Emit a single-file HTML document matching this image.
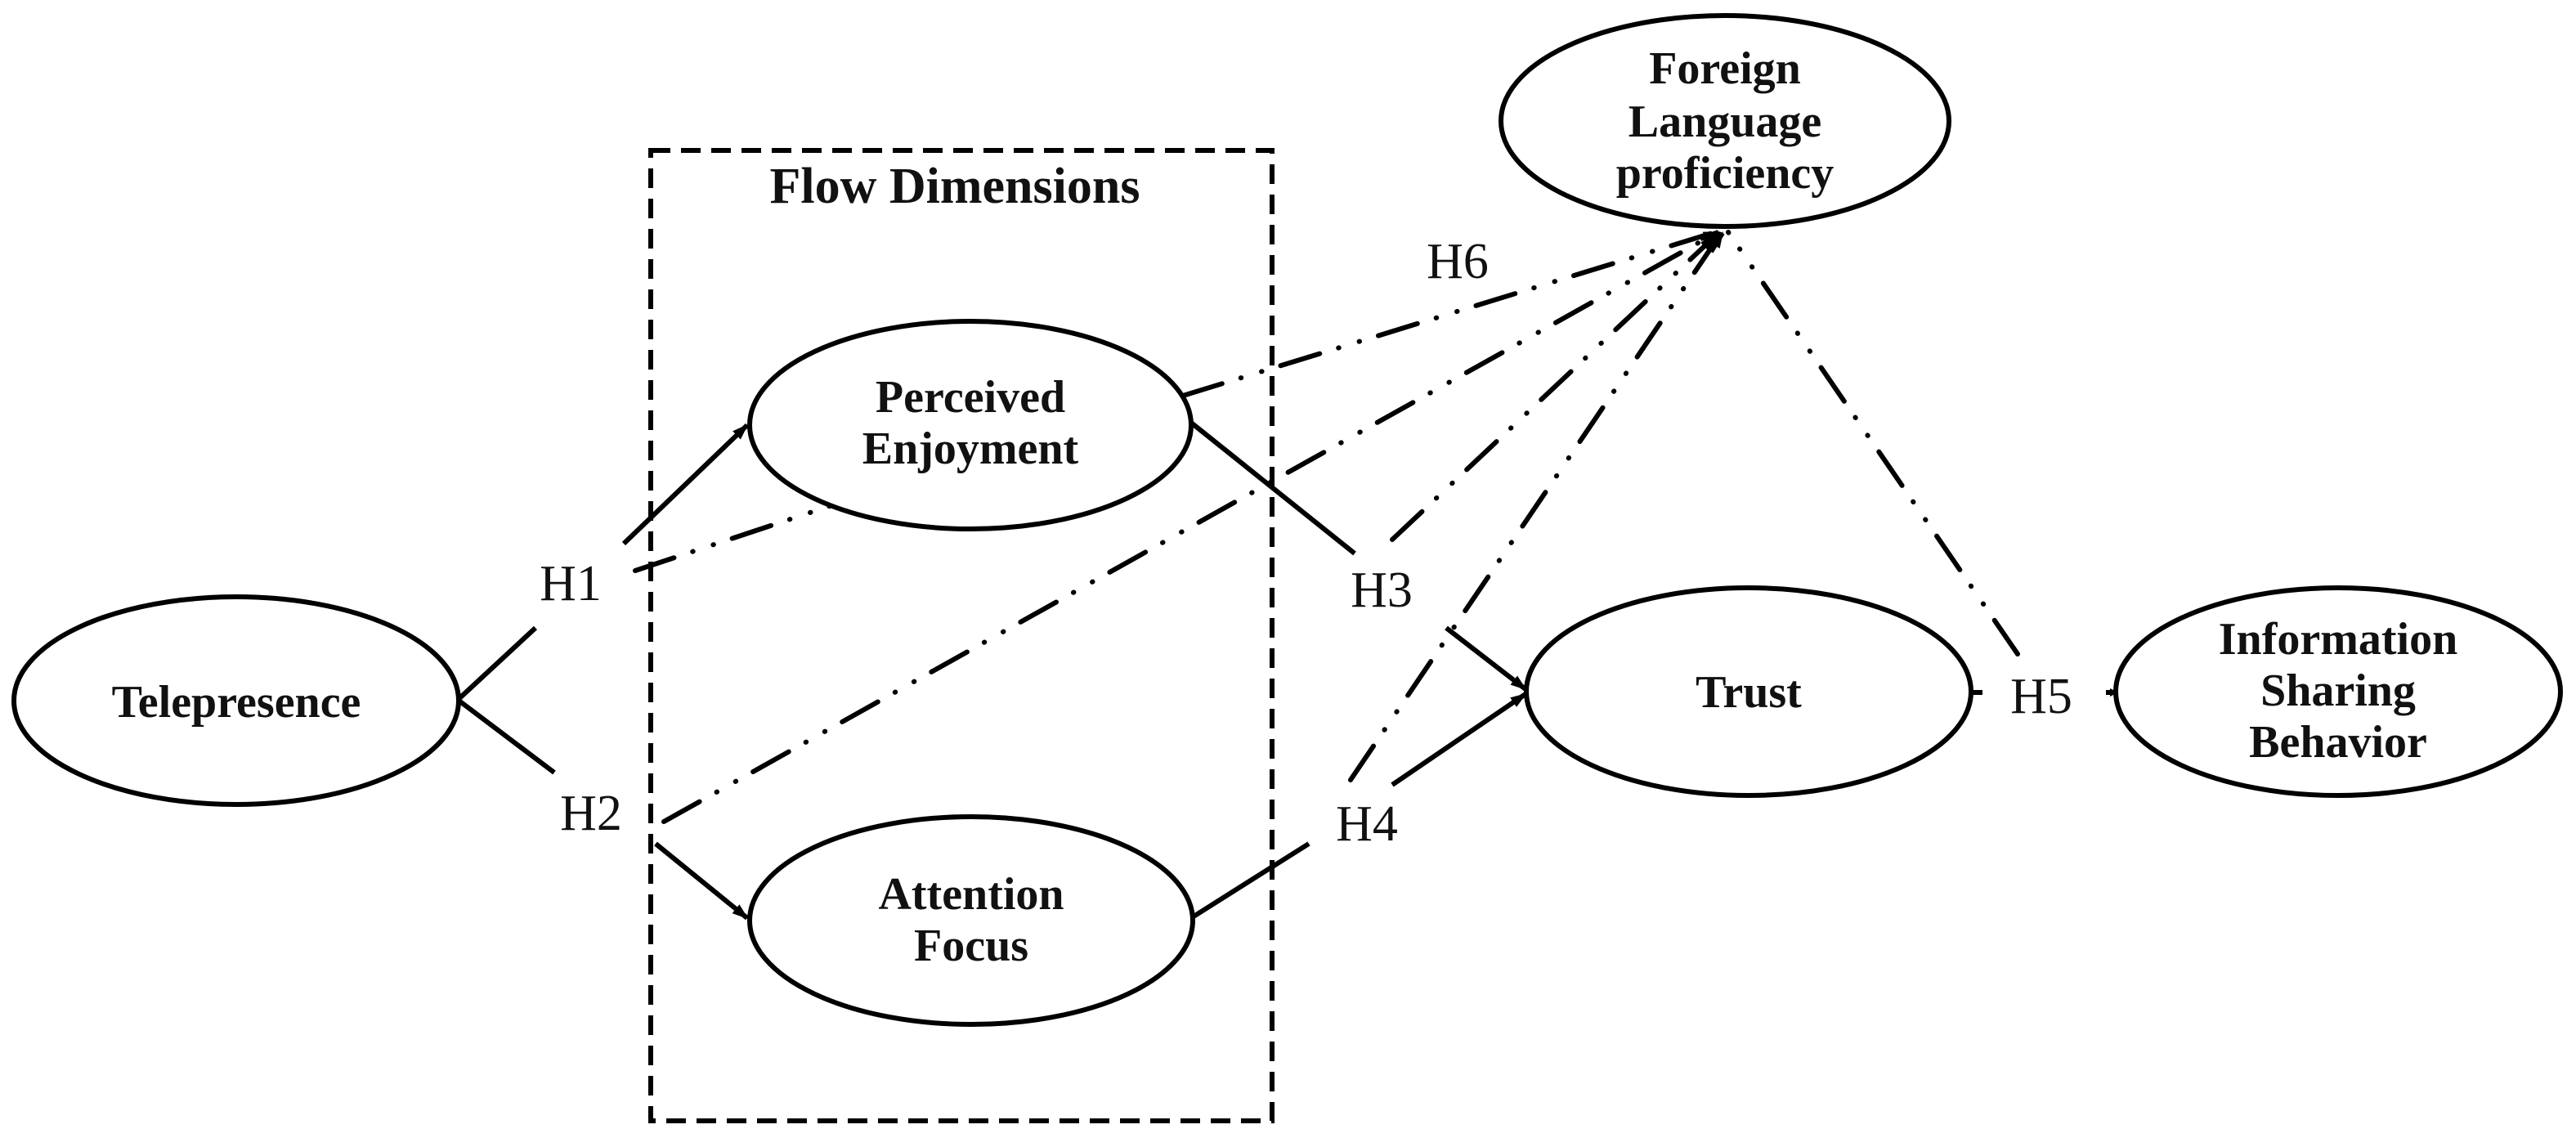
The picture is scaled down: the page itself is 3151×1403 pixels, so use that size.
<!DOCTYPE html>
<html><head><meta charset="utf-8"><style>
html,body{margin:0;padding:0;background:#fff;}
svg{display:block;}
text{font-family:"Liberation Serif",serif;fill:#111;}
.n{font-weight:bold;font-size:56px;text-anchor:middle;}
.h{font-size:62px;text-anchor:middle;}
</style></head><body>
<svg width="3151" height="1403" viewBox="0 0 3151 1403" xmlns="http://www.w3.org/2000/svg">
<defs>
<marker id="a" markerWidth="10" markerHeight="10" refX="9" refY="5" orient="auto" markerUnits="userSpaceOnUse" viewBox="0 0 10 10">
<path d="M0,0 L10,5 L0,10 z" fill="#000"/>
</marker>
<marker id="b" markerWidth="20" markerHeight="20" refX="18" refY="10" orient="auto" markerUnits="userSpaceOnUse" viewBox="0 0 20 20">
<path d="M0,3 L20,10 L0,17 z" fill="#000"/>
</marker>
</defs>
<rect x="796" y="184" width="760" height="1187" fill="none" stroke="#000" stroke-width="6" stroke-dasharray="24 13"/>
<text x="1168" y="248" style="font-weight:bold;font-size:62px;text-anchor:middle">Flow Dimensions</text>

<g fill="none" stroke="#000" stroke-width="6">
<ellipse cx="289" cy="857" rx="272" ry="127"/>
<ellipse cx="1187" cy="520" rx="270" ry="127"/>
<ellipse cx="1188" cy="1126" rx="271" ry="127"/>
<ellipse cx="2110" cy="148" rx="274" ry="129"/>
<ellipse cx="2139" cy="846" rx="272" ry="127"/>
<ellipse cx="2860" cy="846" rx="272" ry="127"/>
</g>

<g fill="none" stroke="#000" stroke-width="6">
<line x1="560" y1="856" x2="655" y2="768"/>
<line x1="763" y1="665" x2="914" y2="520" marker-end="url(#b)"/>
<line x1="560" y1="856" x2="678" y2="945"/>
<line x1="802" y1="1032" x2="914" y2="1123" marker-end="url(#b)"/>
<line x1="1457" y1="517" x2="1657" y2="677"/>
<line x1="1769" y1="768" x2="1866" y2="843" marker-end="url(#b)"/>
<line x1="1460" y1="1121" x2="1601" y2="1032"/>
<line x1="1703" y1="960" x2="1866" y2="849" marker-end="url(#b)"/>
<line x1="2411" y1="847" x2="2425" y2="847"/>
<line x1="2576" y1="847" x2="2590" y2="847" marker-end="url(#a)"/>
</g>
<g fill="none" stroke="#000" stroke-width="6" stroke-linecap="round" stroke-dasharray="50 24 0.5 26 0.5 24">
<line x1="777" y1="698" x2="1015" y2="619"/>
<line x1="1447" y1="484" x2="2098" y2="284"/>
<line x1="812" y1="1005" x2="2099" y2="285"/>
<line x1="1703" y1="660" x2="2101" y2="286"/>
<line x1="1652" y1="954" x2="2104" y2="287"/>
<line x1="2468" y1="800" x2="2114" y2="284"/>
</g>
<g fill="none" stroke="#000" stroke-width="6">
<line x1="2080" y1="292" x2="2102" y2="284" marker-end="url(#b)"/>
<line x1="2082" y1="299" x2="2103" y2="285" marker-end="url(#b)"/>
<line x1="2087" y1="304" x2="2105" y2="285" marker-end="url(#b)"/>
<line x1="2093" y1="308" x2="2107" y2="285" marker-end="url(#b)"/>
</g>

<text class="n" x="289" y="877">Telepresence</text>
<text class="n" x="1187" y="504">Perceived</text>
<text class="n" x="1187" y="567">Enjoyment</text>
<text class="n" x="1188" y="1112">Attention</text>
<text class="n" x="1188" y="1175">Focus</text>
<text class="n" x="2110" y="102">Foreign</text>
<text class="n" x="2110" y="167">Language</text>
<text class="n" x="2110" y="230">proficiency</text>
<text class="n" x="2139" y="865">Trust</text>
<text class="n" x="2860" y="800">Information</text>
<text class="n" x="2860" y="863">Sharing</text>
<text class="n" x="2860" y="926">Behavior</text>

<text class="h" x="698" y="734">H1</text>
<text class="h" x="723" y="1015">H2</text>
<text class="h" x="1690" y="742">H3</text>
<text class="h" x="1672" y="1028">H4</text>
<text class="h" x="2497" y="872">H5</text>
<text class="h" x="1783" y="340">H6</text>
</svg>
</body></html>
